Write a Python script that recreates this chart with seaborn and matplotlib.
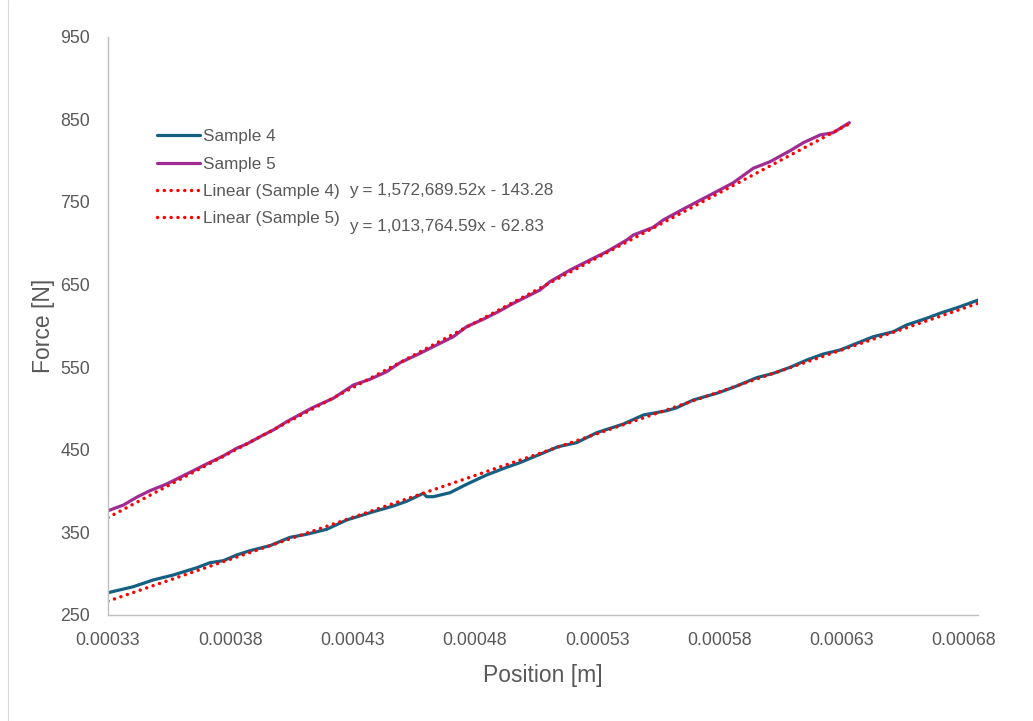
import numpy as np
import matplotlib
matplotlib.use("Agg")
import matplotlib.pyplot as plt
from matplotlib.lines import Line2D
import seaborn as sns

# Force–position measurements (position in m, force in N)
sample4_pos = [0.000325, 0.0003353, 0.0003435, 0.0003517, 0.0003613, 0.0003667, 0.0003721,
               0.0003776, 0.000383, 0.0003912, 0.0003994, 0.0004062, 0.0004144, 0.0004226,
               0.0004335, 0.0004416, 0.0004471, 0.0004539, 0.0004553, 0.000458, 0.0004648,
               0.0004716, 0.0004798, 0.000488, 0.0004934, 0.0005016, 0.000509, 0.0005166,
               0.0005248, 0.0005357, 0.0005439, 0.0005534, 0.0005575, 0.0005643, 0.0005739,
               0.0005807, 0.0005902, 0.0005971, 0.0006039, 0.0006107, 0.0006175, 0.0006243,
               0.0006311, 0.0006379, 0.0006461, 0.0006515, 0.0006597, 0.0006651, 0.0006733,
               0.0006808]
sample4_force = [276.9, 284.1, 292.3, 298.3, 307.1, 313.2, 315.6, 322.5, 327.7, 333.8,
                 343.9, 347.6, 353.6, 364.9, 374.9, 381.8, 387.5, 397.2, 393.1, 393.1,
                 397.9, 408.1, 419.4, 428.7, 434.3, 444.4, 453.6, 458.5, 470.6, 481.1,
                 492.0, 497.2, 500.8, 510.2, 518.3, 525.5, 537.2, 542.5, 549.8, 558.6,
                 565.9, 570.7, 578.8, 586.8, 592.9, 601.0, 609.1, 615.1, 623.1, 631.2]

sample5_pos = [0.000325, 0.0003313, 0.0003367, 0.0003422, 0.000349, 0.0003572, 0.0003653,
               0.0003721, 0.0003776, 0.0003817, 0.0003885, 0.0003926, 0.0003981, 0.0004089,
               0.0004171, 0.0004253, 0.0004321, 0.0004389, 0.0004444, 0.0004526, 0.0004594,
               0.0004662, 0.0004716, 0.0004784, 0.0004846, 0.0004907, 0.0005016, 0.0005057,
               0.0005139, 0.0005234, 0.0005289, 0.0005371, 0.0005398, 0.0005479, 0.000552,
               0.0005616, 0.0005725, 0.0005807, 0.0005888, 0.0005957, 0.0006039, 0.0006093,
               0.0006161, 0.0006215, 0.0006281]
sample5_force = [376.1, 383.0, 392.4, 400.4, 408.5, 420.6, 432.7, 442.4, 451.7, 456.9,
                 467.8, 473.9, 484.0, 501.3, 512.2, 528.3, 535.2, 544.4, 555.3, 566.7,
                 576.8, 586.8, 598.9, 607.9, 617.1, 627.2, 643.3, 653.4, 667.5, 681.7,
                 689.7, 703.9, 709.9, 719.2, 728.1, 743.5, 760.4, 773.3, 790.7, 798.7,
                 812.0, 821.7, 831.0, 833.8, 845.9]

# Linear trendline coefficients as printed on the chart
trend_a_slope, trend_a_intercept = 1572689.52, -143.28   # printed next to "Linear (Sample 4)"
trend_b_slope, trend_b_intercept = 1013764.59, -62.83    # printed next to "Linear (Sample 5)"
equation_labels = ["y = 1,572,689.52x - 143.28", "y = 1,013,764.59x - 62.83"]

series_names = ["Sample 4", "Sample 5", "Linear (Sample 4)", "Linear (Sample 5)"]

x_ticks = [0.000325, 0.000375, 0.000425, 0.000475, 0.000525, 0.000575, 0.000625, 0.000675]
x_tick_labels = ["0.00033", "0.00038", "0.00043", "0.00048", "0.00053", "0.00058",
                 "0.00063", "0.00068"]
y_ticks = [250, 350, 450, 550, 650, 750, 850, 950]

C4 = "#156082"
C5 = "#A02B93"
CTREND = "#FF0000"
TXT = "#595959"

sns.set_theme(style="white")
plt.rcParams["font.family"] = ["Liberation Sans", "DejaVu Sans"]

fig = plt.figure(figsize=(10.33, 7.21), dpi=100)
ax = fig.add_axes([108 / 1033, 1 - 614.9 / 721, 870 / 1033, 578.2 / 721])

sns.lineplot(x=sample4_pos, y=sample4_force, ax=ax, color=C4, linewidth=2.3,
             sort=False, estimator=None)
sns.lineplot(x=sample5_pos, y=sample5_force, ax=ax, color=C5, linewidth=2.3,
             sort=False, estimator=None)

# Trendlines spanning each sample's position range
dot_style = dict(color=CTREND, linewidth=2.5, linestyle=(0, (0.01, 1.95)),
                 dash_capstyle="round")
x5 = np.array([min(sample5_pos), max(sample5_pos)])
x4 = np.array([min(sample4_pos), max(sample4_pos)])
sns.lineplot(x=x5, y=trend_a_slope * x5 + trend_a_intercept, ax=ax, **dot_style)
sns.lineplot(x=x4, y=trend_b_slope * x4 + trend_b_intercept, ax=ax, **dot_style)

ax.set_xlim(0.000325, 0.0006807)
ax.set_ylim(250, 950)
ax.set_xticks(x_ticks)
ax.set_xticklabels(x_tick_labels)
ax.set_yticks(y_ticks)
ax.tick_params(axis="both", length=0, labelsize=12.8, colors=TXT)
ax.tick_params(axis="y", pad=13)
ax.tick_params(axis="x", pad=12)

for side in ["top", "right"]:
    ax.spines[side].set_visible(False)
for side in ["left", "bottom"]:
    ax.spines[side].set_color("#BFBFBF")
    ax.spines[side].set_linewidth(1.0)
ax.grid(False)

ax.set_xlabel("Position [m]", fontsize=16.5, color=TXT, labelpad=11)
ax.set_ylabel("Force [N]", fontsize=16.5, color=TXT, labelpad=4)

handles = [
    Line2D([], [], color=C4, linewidth=2.3),
    Line2D([], [], color=C5, linewidth=2.3),
    Line2D([], [], **dot_style),
    Line2D([], [], **dot_style),
]
leg = ax.legend(handles, series_names, loc="upper left",
                bbox_to_anchor=(49 / 870, 0.840), frameon=False, fontsize=12.3,
                handlelength=2.5, handletextpad=0.2, labelspacing=0.72,
                borderpad=0, borderaxespad=0)
for t in leg.get_texts():
    t.set_color(TXT)

ax.text(241 / 870, (614.9 - 190) / 578.2, equation_labels[0], transform=ax.transAxes,
        fontsize=12.3, color=TXT, va="center", ha="left")
ax.text(241 / 870, (614.9 - 226) / 578.2, equation_labels[1], transform=ax.transAxes,
        fontsize=12.3, color=TXT, va="center", ha="left")

# Chart area border on the left edge
fig.add_artist(Line2D([8 / 1033, 8 / 1033], [0, 1], transform=fig.transFigure,
                      color="#D9D9D9", linewidth=0.8))

fig.savefig("out.png", dpi=100, facecolor="white")
